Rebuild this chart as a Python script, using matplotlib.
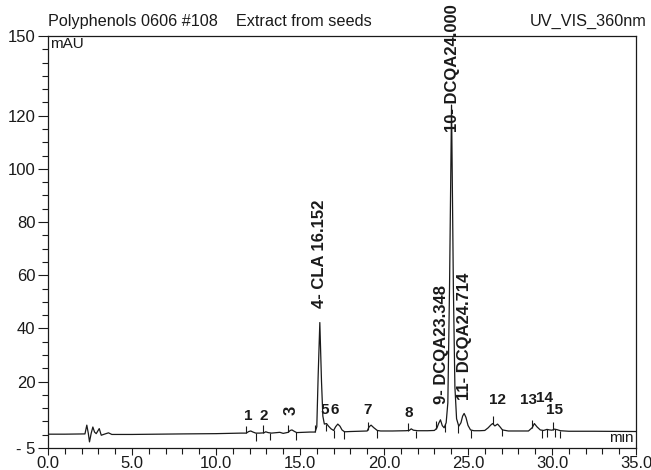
"""
Chromatogram: Polyphenols 0606 #108, extract from seeds, UV_VIS_360nm
"""

import numpy as np
import matplotlib
matplotlib.use('Agg')
import matplotlib.pyplot as plt
from matplotlib.ticker import MultipleLocator, FixedLocator

plt.rcParams['font.family'] = ['Liberation Sans', 'DejaVu Sans']

# trace (min, mAU)
retention = [
    0.0, 1.0, 2.2, 2.31, 2.4, 2.47, 2.57, 2.67, 2.77, 2.87,
    3.05, 3.17, 3.4, 3.6, 3.8, 5.0, 8.0, 10.0, 11.5, 11.8,
    11.95, 12.07, 12.2, 12.37, 12.6, 12.85, 12.96, 13.1, 13.3, 13.8,
    14.0, 14.3, 14.42, 14.52, 14.65, 14.8, 15.2, 15.6, 15.9, 16.0,
    16.08, 16.18, 16.28, 16.36, 16.45, 16.58, 16.7, 16.85, 17.0, 17.12,
    17.25, 17.38, 17.5, 17.65, 18.0, 18.5, 19.0, 19.12, 19.23, 19.4,
    19.6, 19.8, 20.5, 21.3, 21.5, 21.62, 21.75, 22.0, 22.6, 23.0,
    23.15, 23.25, 23.36, 23.47, 23.58, 23.7, 23.8, 23.9, 24.02, 24.13,
    24.22, 24.32, 24.45, 24.58, 24.68, 24.77, 24.88, 25.0, 25.15, 25.35,
    25.7, 26.0, 26.2, 26.35, 26.46, 26.6, 26.76, 26.9, 27.05, 27.4,
    28.0, 28.6, 28.83, 28.95, 29.1, 29.3, 29.5, 29.7, 29.85, 30.0,
    30.15, 30.3, 30.5, 31.0, 32.5, 35.0,
]
absorbance = [
    0.2, 0.2, 0.3, 3.6, 0.5, -2.7, 0.5, 2.9, 1.0, 0.4,
    2.3, -0.2, 0.3, 0.7, 0.1, 0.1, 0.3, 0.4, 0.6, 0.6,
    1.2, 1.4, 1.0, 0.6, 0.6, 0.7, 1.1, 0.8, 0.6, 0.9,
    0.5, 0.9, 1.6, 1.8, 1.3, 0.8, 0.9, 1.0, 1.0, 3.0,
    22.0, 42.2, 20.0, 7.0, 4.0, 4.2, 3.2, 2.2, 1.6, 3.0,
    4.0, 3.2, 1.8, 1.1, 1.2, 1.3, 1.4, 3.0, 3.6, 2.6,
    1.6, 1.4, 1.4, 1.5, 1.6, 2.2, 1.7, 1.5, 1.5, 1.6,
    2.5, 4.2, 5.6, 3.4, 2.6, 4.5, 12.0, 55.0, 124.0, 55.0,
    18.0, 6.0, 3.2, 4.5, 7.0, 8.0, 6.5, 3.5, 1.8, 1.5,
    1.5, 1.6, 2.6, 3.6, 4.2, 3.3, 4.0, 3.0, 1.8, 1.4,
    1.4, 1.4, 2.7, 4.2, 3.0, 1.8, 1.6, 2.0, 1.8, 1.7,
    2.1, 1.9, 1.5, 1.3, 1.3, 1.2,
]

# peak delimiters (min)
peak_starts = [11.8, 12.8, 14.3, 15.9, 19.04, 21.43, 23.1, 26.46, 28.83, 30.05]
peak_ends = [12.37, 13.2, 14.75, 16.55, 17.0, 17.6, 19.6, 21.9, 23.66,
             24.43, 25.2, 27.0, 29.4, 29.7, 30.2, 30.47]

# peak labels
peak_names = ['1', '2', '3', '4- CLA 16.152', '5', '6', '7', '8',
              '9- DCQA23.348', '10- DCQA24.000', '11- DCQA24.714',
              '12', '13', '14', '15']
label_times = [11.9, 12.85, 14.45, 16.19, 16.5, 17.05, 19.05, 21.5,
               23.42, 24.07, 24.8, 26.73, 28.62, 29.55, 30.17]

# layout of the labels (bottom edge in mAU, rotated or not)
label_bottoms = [4.3, 4.3, 7.3, 47.7, 6.6, 6.6, 6.6, 5.5,
                 11.5, 114.0, 13.0, 10.4, 10.4, 11.1, 6.6]
label_vertical = [False, False, True, True, False, False, False, False,
                  True, True, True, False, False, False, False]

y_ticks = [-5, 20, 40, 60, 80, 100, 120, 150]
y_tick_labels = ['- 5', '20', '40', '60', '80', '100', '120', '150']
x_ticks = [0, 5, 10, 15, 20, 25, 30, 35]

INK = '#1a1a1a'

fig = plt.figure(figsize=(6.51, 4.70), dpi=100)
ax = fig.add_axes([48 / 651, 1 - 448 / 470, 588 / 651, 412 / 470])

ax.plot(retention, absorbance, color=INK, linewidth=0.9)

# delimiter ticks: start goes up, end goes down
mark = 2.8
ys = np.interp(peak_starts, retention, absorbance)
ax.vlines(peak_starts, ys, ys + mark, color=INK, linewidth=0.8)
ye = np.interp(peak_ends, retention, absorbance)
ax.vlines(peak_ends, ye - mark, ye, color=INK, linewidth=0.8)

for name, t, yb, vert in zip(peak_names, label_times, label_bottoms, label_vertical):
    ax.text(t, yb, name, rotation=90 if vert else 0, ha='center', va='bottom',
            fontsize=12 if vert else 11, fontweight='bold', color=INK,
            clip_on=False)

ax.set_xlim(0, 35)
ax.set_ylim(-5, 150)

ax.xaxis.set_major_locator(FixedLocator(x_ticks))
ax.set_xticklabels([f'{v:.1f}' for v in x_ticks])
ax.xaxis.set_minor_locator(MultipleLocator(1))
ax.yaxis.set_major_locator(FixedLocator(y_ticks))
ax.set_yticklabels(y_tick_labels)
ax.yaxis.set_minor_locator(MultipleLocator(5))

ax.tick_params(which='both', direction='out', color=INK, width=0.8,
               labelsize=12, labelcolor=INK)
ax.tick_params(axis='y', which='major', length=7, pad=2)
ax.tick_params(axis='y', which='minor', length=4)
ax.tick_params(axis='x', which='major', length=5, pad=0.5)
ax.tick_params(axis='x', which='minor', length=4)
for s in ax.spines.values():
    s.set_color(INK)
    s.set_linewidth(0.9)

ax.text(0.004, 0.997, 'mAU', transform=ax.transAxes, ha='left', va='top',
        fontsize=11, color=INK)
ax.text(0.996, 0.008, 'min', transform=ax.transAxes, ha='right', va='bottom',
        fontsize=11, color=INK)

fig.text(48 / 651, 1 - 26 / 470, 'Polyphenols 0606 #108    Extract from seeds',
         ha='left', va='baseline', fontsize=11.7, color=INK)
fig.text(647 / 651, 1 - 26 / 470, 'UV_VIS_360nm',
         ha='right', va='baseline', fontsize=11.7, color=INK)

fig.savefig('out.png', dpi=100)
